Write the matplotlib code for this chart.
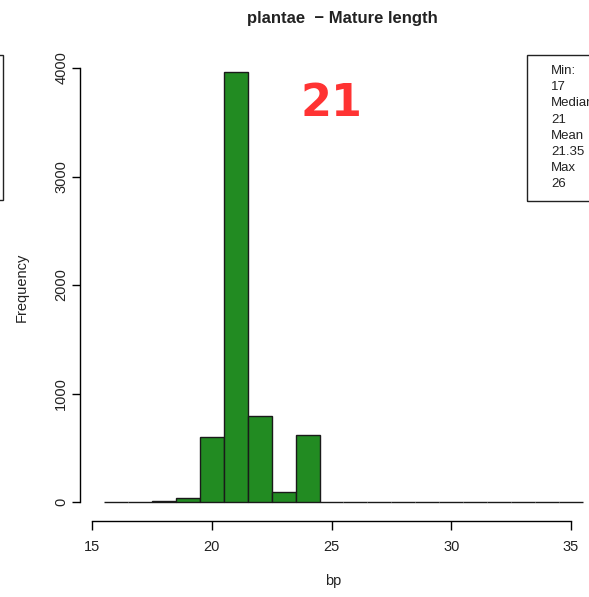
import matplotlib
matplotlib.use("Agg")
import matplotlib.pyplot as plt
import matplotlib.patches as mpatches

# bin centres (bp) and read counts per bin
lengths = [16, 17, 18, 19, 20, 21, 22, 23, 24, 25, 26, 27, 28, 29, 30, 31, 32, 33, 34, 35]
counts = [0, 1, 10, 35, 600, 3960, 795, 90, 620, 2, 1, 0, 0, 0, 0, 0, 0, 0, 0, 0]
x_ticks = [15, 20, 25, 30, 35]
y_ticks = [0, 1000, 2000, 3000, 4000]
stats_lines = ["Min:", "17", "Median", "21", "Mean", "21.35", "Max", "26"]
title = "plantae  \u2212 Mature length"
big_label = "21"

W, H = 589, 597
fig = plt.figure(figsize=(W / 100, H / 100), dpi=100)
ax = fig.add_axes([0, 0, 1, 1])
ax.patch.set_alpha(0)

# pixel <-> data mapping (R style plot region)
px_per_x = 23.95
px_per_y = 0.1085
x0_px, y0_px = 92, 502
ax.set_xlim(15 - x0_px / px_per_x, 15 + (W - x0_px) / px_per_x)
ax.set_ylim((y0_px - H) / px_per_y, y0_px / px_per_y)

ax.bar(lengths, counts, width=1.0, color="#228B22", edgecolor="#1a1a1a",
       linewidth=1.0, zorder=2)

for s in ["top", "right"]:
    ax.spines[s].set_visible(False)
ax.spines["bottom"].set_position(("data", (y0_px - 521) / px_per_y))
ax.spines["left"].set_position(("data", 15 - (x0_px - 80) / px_per_x))
ax.spines["bottom"].set_bounds(15, 35)
ax.spines["left"].set_bounds(0, 4000)
for s in ["bottom", "left"]:
    ax.spines[s].set_linewidth(1.0)

ax.set_xticks(x_ticks)
ax.set_yticks(y_ticks)
ax.set_xticklabels([str(v) for v in x_ticks], fontsize=10.5,
                   fontfamily="Liberation Sans", color="#222222")
ax.set_yticklabels([str(v) for v in y_ticks], fontsize=10.5, rotation=90,
                   va="center", fontfamily="Liberation Sans", color="#222222")
ax.tick_params(axis="x", length=6.5, width=1.0, pad=7)
ax.tick_params(axis="y", length=5.5, width=1.0, pad=3)

def fx(px):
    return px / W

def fy(py):
    return 1 - py / H

fig.text(fx(342), fy(19), title, ha="center", va="center", fontsize=12,
         fontweight="bold", fontfamily="Liberation Sans", color="#222222")
fig.text(fx(333), fy(581), "bp", ha="center", va="center", fontsize=10.5,
         fontfamily="Liberation Sans", color="#222222")
fig.text(fx(22), fy(287), "Frequency", ha="center", va="center", rotation=90,
         fontsize=10.5, fontfamily="Liberation Sans", color="#222222")
fig.text(fx(331), fy(104), big_label, ha="center", va="center", fontsize=32,
         fontweight="bold", fontfamily="DejaVu Sans", color="#ff3333")

# summary box on the right
fig.patches.append(mpatches.Rectangle((fx(527), fy(201)), fx(100), (201 - 55) / H,
                                      transform=fig.transFigure, fill=False,
                                      edgecolor="#222222", linewidth=1.0))
for i, line in enumerate(stats_lines):
    fig.text(fx(551), fy(71 + i * 16.2), line, ha="left", va="center",
             fontsize=9.5, fontfamily="Liberation Sans", color="#222222")

# edge of the neighbouring panel's box
fig.patches.append(mpatches.Rectangle((fx(-100), fy(200)), fx(103), (200 - 55) / H,
                                      transform=fig.transFigure, fill=False,
                                      edgecolor="#222222", linewidth=1.0))

fig.savefig("out.png", dpi=100)
